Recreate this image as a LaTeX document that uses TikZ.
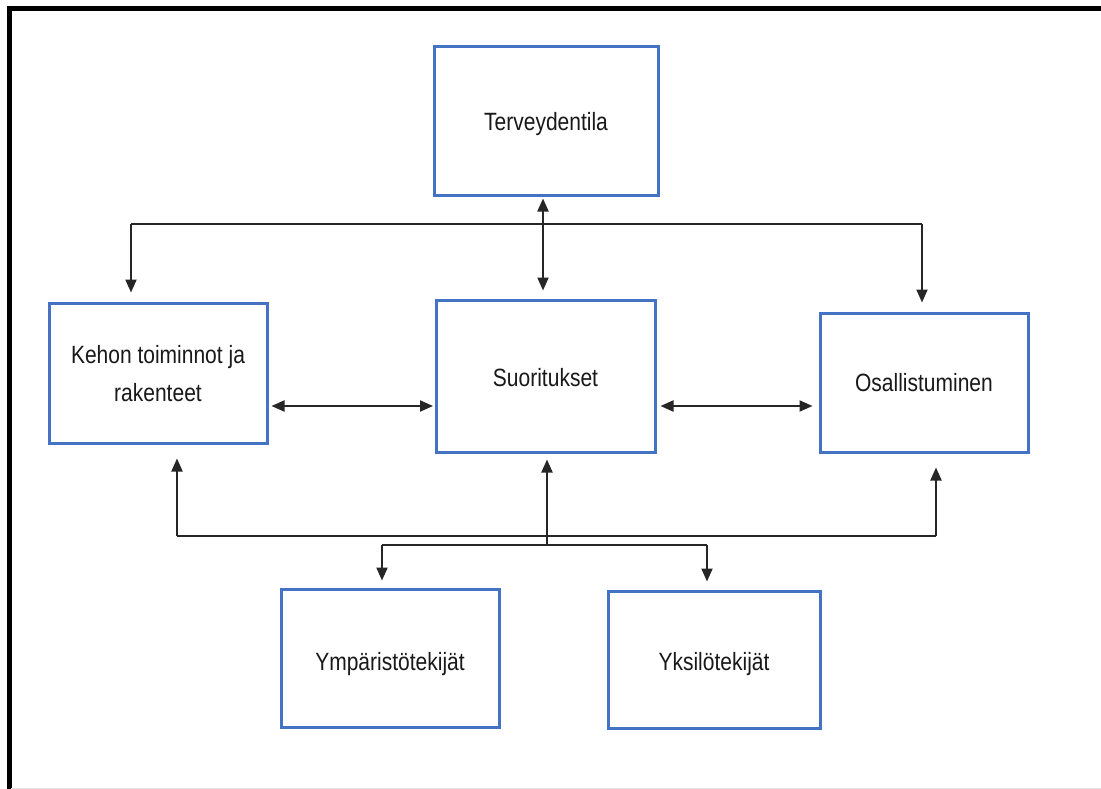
\documentclass[tikz,border=0pt]{standalone}
\usepackage{fontspec}
\setmainfont{Liberation Sans}
\newfontfamily\labfont[FakeStretch=0.84]{Liberation Sans}
\usetikzlibrary{arrows.meta}
\definecolor{boxblue}{RGB}{68,114,196}
\definecolor{txt}{RGB}{25,25,25}
\newcommand{\dn}[2]{\raisebox{-#1pt}[\height][\depth]{#2}}
\begin{document}
\begin{tikzpicture}[x=1pt,y=-1pt,
  box/.style={draw=boxblue, line width=3pt, fill=white, rectangle, align=center,
    text=txt, font=\labfont\fontsize{25}{36}\selectfont, inner sep=0pt},
  conn/.style={draw=black!85, line width=2pt},
  tip/.tip={Triangle[length=13pt,width=11pt]},
  arr/.style={conn, -tip},
  darr/.style={conn, tip-tip}
]
\useasboundingbox (0,0) rectangle (1101,789);
\fill[white] (0,0) rectangle (1101,789);
% frame
\draw[black, line width=4.5pt] (9.5,789) -- (9.5,8.5) -- (1101,8.5);
\draw[black!10, line width=1pt] (11,788.5) -- (1101,788.5);

% boxes
\node[box, minimum width=224pt, minimum height=149pt] (ter) at (546,121.5) {\dn{3}{Terveydentila}};
\node[box, minimum width=218pt, minimum height=140pt] (keh) at (158,373) {\dn{2}{\begin{tabular}{@{}c@{}}Kehon toiminnot ja\\[2pt]rakenteet\end{tabular}}};
\node[box, minimum width=219pt, minimum height=152pt] (suo) at (545.5,376) {\dn{2}{Suoritukset}};
\node[box, minimum width=208pt, minimum height=139pt] (osa) at (924,382.5) {Osallistuminen};
\node[box, minimum width=218pt, minimum height=138pt] (ymp) at (390,658) {\dn{6}{Ympäristötekijät}};
\node[box, minimum width=212pt, minimum height=137pt] (yks) at (714,659.5) {\dn{5}{Yksilötekijät}};

% top distribution
\coordinate (tl) at (131,224);
\coordinate (tr) at (922,224);
\draw[conn] (tl) -- (tr);
\draw[arr, shorten >=9pt] (tl) -- (tl |- keh.north);
\draw[arr, shorten >=9pt] (tr) -- (tr |- osa.north);
\coordinate (tv) at (543,0);
\draw[darr, shorten <=1pt, shorten >=8pt] (tv |- ter.south) -- (tv |- suo.north);

% horizontal links
\coordinate (hy) at (0,406);
\draw[darr, shorten <=3pt, shorten >=1.5pt] (keh.east |- hy) -- (suo.west |- hy);
\draw[darr, shorten <=4pt, shorten >=6pt] (suo.east |- hy) -- (osa.west |- hy);

% bottom distribution
\coordinate (bl) at (177,536);
\coordinate (br) at (936,536);
\draw[conn] (bl) -- (br);
\draw[arr, shorten >=14pt] (bl) -- (bl |- keh.south);
\draw[arr, shorten >=14pt] (br) -- (br |- osa.south);
\coordinate (ll) at (382,545);
\coordinate (lr) at (707,545);
\coordinate (lm) at (547,545);
\draw[conn] (ll) -- (lr);
\draw[arr, shorten >=6pt] (lm) -- (lm |- suo.south);
\draw[arr, shorten >=7pt] (ll) -- (ll |- ymp.north);
\draw[arr, shorten >=8pt] (lr) -- (lr |- yks.north);
\end{tikzpicture}
\end{document}
